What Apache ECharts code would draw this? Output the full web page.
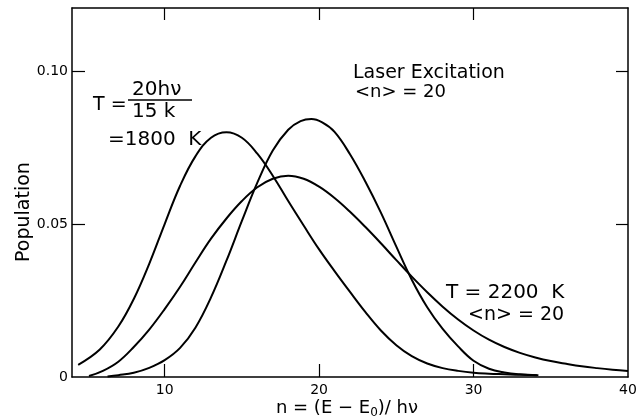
<!DOCTYPE html>
<html>
<head>
<meta charset="utf-8">
<script src="https://cdn.jsdelivr.net/npm/echarts@6/dist/echarts.min.js"></script>
<style>
  html, body { margin: 0; padding: 0; background: #fff; }
  #chart { width: 640px; height: 419px; }
</style>
</head>
<body>
<div id="chart"></div>
<script>
// values
const thermal1800N = [4.4, 5.8, 7, 8, 9, 10, 11, 12, 13, 14, 15, 16, 17, 18, 19, 20, 21, 22, 23, 24, 25, 26, 27, 28, 29, 30, 31, 32, 33, 34.2]
const thermal1800Pop = [0.004, 0.009, 0.0165, 0.0255, 0.037, 0.050, 0.0625, 0.0722, 0.0782, 0.0800, 0.0782, 0.0730, 0.0658, 0.0575, 0.0495, 0.0417, 0.0346, 0.0278, 0.0212, 0.0152, 0.0104, 0.0068, 0.0044, 0.0029, 0.0020, 0.0014, 0.0011, 0.0009, 0.0007, 0.0006]

const laserN = [6.3, 7, 8, 9, 10, 11, 12, 13, 14, 15, 16, 17, 18, 18.8, 19.5, 20.2, 21, 22, 23, 24, 25, 26, 27, 28, 29, 30, 31, 32, 33, 34.1]
const laserPop = [0.0002, 0.0006, 0.0014, 0.003, 0.0055, 0.0095, 0.0162, 0.026, 0.038, 0.051, 0.0635, 0.074, 0.0808, 0.0836, 0.0843, 0.0832, 0.0801, 0.0728, 0.0638, 0.0537, 0.0426, 0.0318, 0.0228, 0.0157, 0.0100, 0.0053, 0.0027, 0.0015, 0.0009, 0.0006]

const thermal2200N = [5.1, 6, 7, 8, 9, 10, 11, 12, 13, 14, 15, 16, 17, 18, 19, 20, 21, 22, 23, 24, 25, 26, 27, 28, 29, 30, 31, 32, 33, 34, 35, 36, 37, 38, 39, 40]
const thermal2200Pop = [0.0003, 0.002, 0.005, 0.0098, 0.0155, 0.0222, 0.0295, 0.0375, 0.0452, 0.0518, 0.0575, 0.062, 0.0648, 0.0658, 0.0648, 0.0622, 0.0585, 0.054, 0.049, 0.0437, 0.0382, 0.0328, 0.0277, 0.023, 0.0188, 0.0152, 0.0122, 0.0098, 0.0079, 0.0064, 0.0052, 0.0043, 0.0035, 0.0029, 0.0024, 0.002]

const xTicks = [10, 20, 30, 40]
const yTicks = [0, 0.05, 0.1]
const yTickLabels = ['0', '0.05', '0.10']

const FONT = 'DejaVu Sans'

function pairs(xs, ys) {
  return xs.map((x, i) => [x, ys[i]])
}

const chart = echarts.init(document.getElementById('chart'))

const axisLine = { show: true, onZero: false, lineStyle: { color: '#000', width: 1.5 } }
const tickStyle = { color: '#000', width: 1.2 }
const curveStyle = { color: '#000', width: 2 }

chart.setOption({
  animation: false,
  grid: {
    left: 72,
    right: 12,
    top: 8,
    bottom: 42,
    containLabel: false,
    outerBoundsMode: 'none'
  },
  xAxis: [
    {
      type: 'value',
      position: 'bottom',
      min: 4,
      max: 40,
      axisLine: axisLine,
      axisTick: { show: true, inside: true, length: 13, customValues: [10, 20, 30], lineStyle: tickStyle },
      axisLabel: {
        customValues: xTicks,
        color: '#000',
        fontFamily: FONT,
        fontSize: 14,
        margin: 6
      },
      splitLine: { show: false }
    },
    {
      type: 'value',
      position: 'top',
      min: 4,
      max: 40,
      axisLine: axisLine,
      axisTick: { show: true, inside: true, length: 12, customValues: [10, 20, 30], lineStyle: tickStyle },
      axisLabel: { show: false },
      splitLine: { show: false }
    }
  ],
  yAxis: [
    {
      type: 'value',
      position: 'left',
      min: 0,
      max: 0.1206,
      axisLine: axisLine,
      axisTick: { show: true, inside: true, length: 13, customValues: [0.05, 0.1], lineStyle: tickStyle },
      axisLabel: {
        customValues: yTicks,
        formatter: (v) => yTickLabels[yTicks.indexOf(v)] ?? '',
        color: '#000',
        fontFamily: FONT,
        fontSize: 14,
        margin: 4
      },
      splitLine: { show: false }
    },
    {
      type: 'value',
      position: 'right',
      min: 0,
      max: 0.1206,
      axisLine: axisLine,
      axisTick: { show: true, inside: true, length: 12, customValues: [0.05, 0.1], lineStyle: tickStyle },
      axisLabel: { show: false },
      splitLine: { show: false }
    }
  ],
  series: [
    {
      name: 'T = 1800 K',
      type: 'line',
      smooth: 0.4,
      showSymbol: false,
      lineStyle: curveStyle,
      data: pairs(thermal1800N, thermal1800Pop)
    },
    {
      name: 'Laser Excitation',
      type: 'line',
      smooth: 0.4,
      showSymbol: false,
      lineStyle: curveStyle,
      data: pairs(laserN, laserPop)
    },
    {
      name: 'T = 2200 K',
      type: 'line',
      smooth: 0.4,
      showSymbol: false,
      lineStyle: curveStyle,
      data: pairs(thermal2200N, thermal2200Pop)
    }
  ],
  graphic: [
    // axis titles
    {
      type: 'text',
      x: 24,
      y: 212,
      rotation: Math.PI / 2,
      style: { text: 'Population', font: '19px ' + FONT, fill: '#000', align: 'center', verticalAlign: 'middle' }
    },
    {
      type: 'text',
      x: 347,
      y: 408,
      style: {
        text: '{a|n = (E − E}{s|0}{a|)/ hν}',
        align: 'center',
        verticalAlign: 'middle',
        rich: {
          a: { fontFamily: FONT, fontSize: 18, color: '#000' },
          s: { fontFamily: FONT, fontSize: 12, color: '#000', padding: [10, 0, 0, 0] }
        }
      }
    },
    // T = 20hv / 15k
    {
      type: 'text', x: 93, y: 105,
      style: { text: 'T =', font: '19px ' + FONT, fill: '#000', verticalAlign: 'middle' }
    },
    {
      type: 'text', x: 132, y: 90,
      style: { text: '20hν', font: '20px ' + FONT, fill: '#000', verticalAlign: 'middle' }
    },
    {
      type: 'line',
      shape: { x1: 128, y1: 100, x2: 192, y2: 100 },
      style: { stroke: '#000', lineWidth: 1.5 }
    },
    {
      type: 'text', x: 132, y: 112,
      style: { text: '15 k', font: '20px ' + FONT, fill: '#000', verticalAlign: 'middle' }
    },
    {
      type: 'text', x: 108, y: 140,
      style: { text: '=1800  K', font: '20px ' + FONT, fill: '#000', verticalAlign: 'middle' }
    },
    // laser
    {
      type: 'text', x: 353, y: 73,
      style: { text: 'Laser Excitation', font: '19px ' + FONT, fill: '#000', verticalAlign: 'middle' }
    },
    {
      type: 'text', x: 355, y: 92,
      style: { text: '<n> = 20', font: '18px ' + FONT, fill: '#000', verticalAlign: 'middle' }
    },
    // 2200 K
    {
      type: 'text', x: 446, y: 293,
      style: { text: 'T = 2200  K', font: '20px ' + FONT, fill: '#000', verticalAlign: 'middle' }
    },
    {
      type: 'text', x: 468, y: 315,
      style: { text: '<n> = 20', font: '19px ' + FONT, fill: '#000', verticalAlign: 'middle' }
    }
  ]
})
</script>
</body>
</html>
